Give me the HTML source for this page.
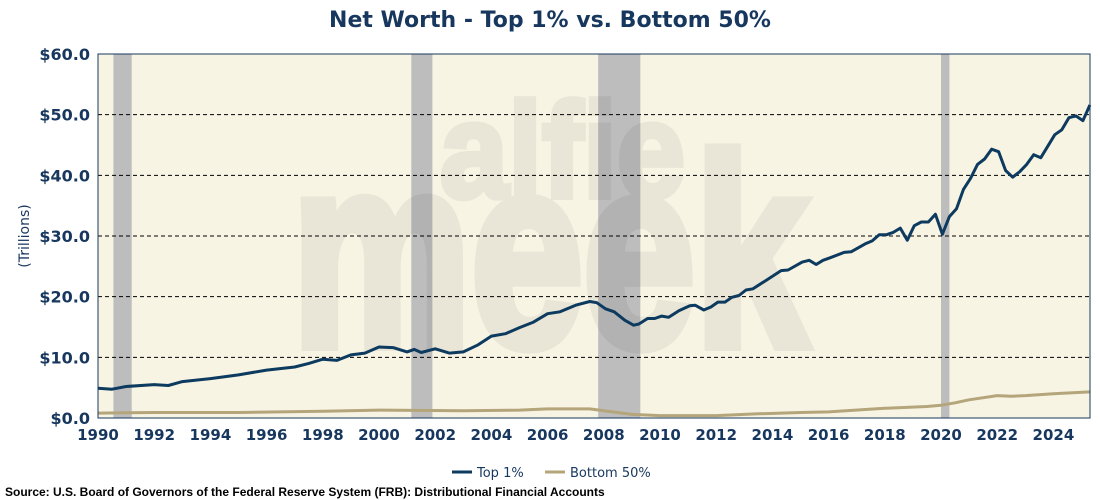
<!DOCTYPE html>
<html><head><meta charset="utf-8"><style>
body{margin:0;background:#fff;width:1100px;height:500px;overflow:hidden}
svg{display:block}
</style></head><body>
<svg id="chart" width="1100" height="500" xmlns="http://www.w3.org/2000/svg" font-family="DejaVu Sans, Liberation Sans, sans-serif">
<text x="550" y="27" text-anchor="middle" font-size="22" font-weight="bold" fill="#17375e">Net Worth - Top 1% vs. Bottom 50%</text>
<rect x="98" y="54" width="992" height="364" fill="#f7f4e4"/>
<g id="rec"></g>
<g opacity="0.05" fill="#000" stroke="#000" font-family="Liberation Sans, sans-serif" font-weight="bold">
<text x="440" y="197" font-size="135" stroke-width="6" textLength="245" lengthAdjust="spacingAndGlyphs">alfie</text>
<text x="292" y="345" font-size="270" stroke-width="12" textLength="515" lengthAdjust="spacingAndGlyphs">meek</text>
</g>
<g id="grid"></g>
<g id="series"></g>
<rect x="98" y="54" width="992" height="364" fill="none" stroke="#17375e" stroke-width="1"/>
<g id="axes"></g>
<text transform="translate(29,236) rotate(-90)" text-anchor="middle" font-size="14" fill="#17375e">(Trillions)</text>
<g>
<line x1="452" y1="472" x2="472" y2="472" stroke="#0d3a5f" stroke-width="3"/>
<text x="477" y="477" font-size="13" fill="#17375e">Top 1%</text>
<line x1="545" y1="472" x2="565" y2="472" stroke="#b5a57a" stroke-width="3"/>
<text x="570" y="477" font-size="13" fill="#17375e">Bottom 50%</text>
</g>
<text x="5" y="496" font-size="12" font-weight="bold" fill="#000" font-family="Liberation Sans, sans-serif">Source: U.S. Board of Governors of the Federal Reserve System (FRB): Distributional Financial Accounts</text>
</svg>
<script>
const yTicks=[0,10,20,30,40,50,60];
const xTicks=[1990,1992,1994,1996,1998,2000,2002,2004,2006,2008,2010,2012,2014,2016,2018,2020,2022,2024];
const recessions=[[1990.55,1991.2],[2001.15,2001.9],[2007.8,2009.3],[2020.0,2020.3]];
const topYears=[1990,1990.5,1991,1992,1992.5,1993,1994,1995,1996,1997,1997.5,1998,1998.5,1999,1999.5,2000,2000.5,2001,2001.25,2001.5,2002,2002.5,2003,2003.5,2004,2004.5,2005,2005.5,2006,2006.44,2007,2007.5,2007.75,2008.06,2008.37,2008.75,2009.06,2009.25,2009.56,2009.81,2010.06,2010.31,2010.68,2011.06,2011.25,2011.56,2011.81,2012.06,2012.31,2012.56,2012.81,2013.06,2013.31,2013.81,2014.31,2014.56,2015.06,2015.31,2015.56,2015.8,2016.05,2016.55,2016.8,2017.3,2017.55,2017.8,2018.05,2018.3,2018.55,2018.8,2019.05,2019.3,2019.55,2019.8,2020.05,2020.3,2020.55,2020.8,2021.05,2021.3,2021.55,2021.8,2022.05,2022.3,2022.55,2022.8,2023.05,2023.3,2023.55,2023.8,2024.05,2024.3,2024.55,2024.8,2025.05,2025.3];
const topValues=[4.9,4.75,5.2,5.5,5.35,6.0,6.5,7.1,7.9,8.4,9.0,9.7,9.5,10.4,10.7,11.7,11.6,10.9,11.3,10.8,11.4,10.7,10.9,12.0,13.5,13.9,14.9,15.8,17.2,17.5,18.6,19.2,19.0,18.0,17.5,16.1,15.3,15.5,16.4,16.4,16.8,16.6,17.7,18.5,18.6,17.8,18.3,19.1,19.1,19.9,20.2,21.1,21.3,22.8,24.3,24.4,25.7,26.0,25.3,26.0,26.4,27.3,27.4,28.7,29.2,30.2,30.2,30.6,31.3,29.3,31.7,32.3,32.3,33.6,30.3,33.2,34.5,37.7,39.5,41.8,42.7,44.3,43.9,40.8,39.7,40.6,41.8,43.4,42.9,44.8,46.7,47.5,49.5,49.8,49.0,51.6];
const botYears=[1990,1992,1995,1998,2000,2003,2005,2006,2007.5,2008,2009,2010,2012,2013.5,2015,2016,2018,2019.5,2020,2020.5,2021,2022,2022.5,2023,2024,2025.3];
const botValues=[0.8,0.9,0.9,1.1,1.3,1.2,1.3,1.5,1.5,1.2,0.6,0.4,0.4,0.7,0.9,1.0,1.6,1.9,2.1,2.5,3.0,3.7,3.6,3.7,4.0,4.3];
const NS='http://www.w3.org/2000/svg';
const X=y=>98+(y-1990)*28.1;
const Y=v=>418-v*(364/60);
function mk(tag,attrs,parent){const e=document.createElementNS(NS,tag);for(const k in attrs)e.setAttribute(k,attrs[k]);parent.appendChild(e);return e;}
const rec=document.getElementById('rec'),grid=document.getElementById('grid'),axes=document.getElementById('axes'),ser=document.getElementById('series');
recessions.forEach(r=>{const e=mk('rect',{x:X(r[0]),y:54,width:X(r[1])-X(r[0]),height:364,fill:'#bdbdbd'},rec);

});
yTicks.forEach(t=>{if(t>0&&t<60){const l=mk('line',{x1:98,x2:1090,y1:Y(t),y2:Y(t),stroke:'#000','stroke-width':1,'stroke-dasharray':'4,3'},grid);

}
const tx=mk('text',{x:90,y:Y(t)+6,'text-anchor':'end','font-size':16,'font-weight':'bold',fill:'#17375e'},axes);tx.textContent='$'+t.toFixed(1);

});
xTicks.forEach(t=>{const tx=mk('text',{x:X(t),y:440,'text-anchor':'middle','font-size':15,'font-weight':'bold',fill:'#17375e'},axes);tx.textContent=t;

});
function line(xs,vs,color,name){const p=mk('polyline',{points:xs.map((x,i)=>X(x).toFixed(1)+','+Y(vs[i]).toFixed(1)).join(' '),fill:'none',stroke:color,'stroke-width':3,'stroke-linejoin':'round'},ser);

}
line(botYears,botValues,'#b5a57a','bottom-50-line');
line(topYears,topValues,'#0d3a5f','top-1-line');
</script>
</body></html>
